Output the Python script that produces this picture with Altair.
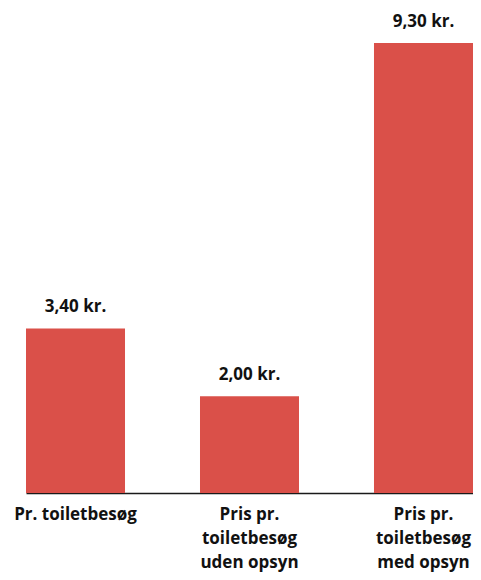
import altair as alt
import pandas as pd

categories = ["Pr. toiletbesøg", "Pris pr.\ntoiletbesøg\nuden opsyn", "Pris pr.\ntoiletbesøg\nmed opsyn"]
values = [3.40, 2.00, 9.30]
labels = ["3,40 kr.", "2,00 kr.", "9,30 kr."]

df = pd.DataFrame({"cat": categories, "value": values, "label": labels})

FONT = "Open Sans"

x = alt.X("cat:N", sort=categories, title=None,
          scale=alt.Scale(paddingInner=0.431, paddingOuter=0),
          axis=alt.Axis(labelAngle=0, ticks=False, domain=True, domainColor="#1a1a1a",
                        domainWidth=1.5, labelPadding=13, labelFont=FONT, labelFontSize=17,
                        labelFontWeight="bold", labelColor="#111111", labelLineHeight=24,
                        labelExpr="split(datum.label, '\\n')", labelBaseline="top",
                        labelLimit=300, labelOverlap=False, labelBound=False))
y = alt.Y("value:Q", scale=alt.Scale(domain=[0, 9.3], nice=False), axis=None)

bars = alt.Chart(df).mark_bar(color="#da5049").encode(x=x, y=y)
text = alt.Chart(df).mark_text(baseline="alphabetic", dy=-16, font=FONT, fontSize=17,
                               fontWeight="bold", color="#111111").encode(
    x=alt.X("cat:N", sort=categories), y="value:Q", text="label:N")

chart = (bars + text).properties(
    width=447, height=450,
    autosize=alt.AutoSizeParams(type="none"),
    padding={"left": 18, "top": 35, "right": 0, "bottom": 90},
).configure_view(stroke=None)

chart.save("out.html", embed_options={"renderer": "svg", "actions": False})
